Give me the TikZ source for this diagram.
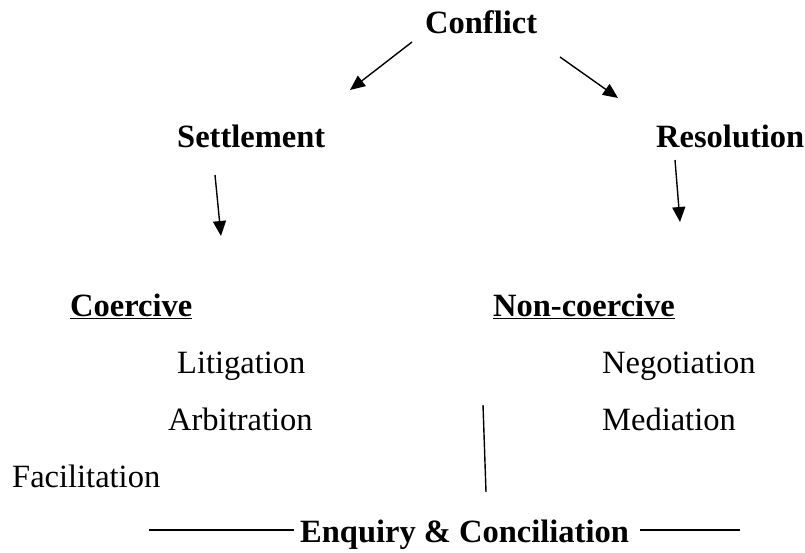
\documentclass[tikz,border=0pt]{standalone}
\usepackage{fontspec}
\setmainfont{Liberation Serif}
\usetikzlibrary{arrows.meta}
\begin{document}
\begin{tikzpicture}[x=1pt,y=-1pt,
  lbl/.style={anchor=base west,inner sep=0pt,font=\fontsize{32.5}{36}\selectfont},
  blbl/.style={lbl,font=\fontsize{32.5}{36}\selectfont\bfseries},
  arr/.style={line width=1.4pt,-{Triangle[length=15pt,width=13pt]}},
  ln/.style={line width=1.4pt}]
\useasboundingbox[fill=white] (0,0) rectangle (805,552);
\node[blbl] (conflict) at (425,33) {Conflict};
\node[blbl] (settlement) at (177,147) {Settlement};
\node[blbl] (resolution) at (656,147) {Resolution};
\node[blbl] (coercive) at (70,316) {\underline{Coercive}};
\node[blbl] (noncoercive) at (493,316) {\underline{Non-coercive}};
\node[lbl] (litigation) at (177,373) {Litigation};
\node[lbl] (negotiation) at (602,373) {Negotiation};
\node[lbl] (arbitration) at (168,430) {Arbitration};
\node[lbl] (mediation) at (602,430) {Mediation};
\node[lbl] (facilitation) at (12,487) {Facilitation};
\node[blbl] (enquiry) at (300,542) {Enquiry \& Conciliation};
\coordinate (c1s) at (412,42);
\coordinate (c1e) at (350,90);
\coordinate (c2s) at (560,57);
\coordinate (c2e) at (618,98);
\coordinate (s1s) at (215,175);
\coordinate (s1e) at (221,236);
\coordinate (r1s) at (675,160);
\coordinate (r1e) at (680,222);
\coordinate (vs) at (483,405);
\coordinate (ve) at (486,492);
\coordinate (l1s) at (149,530);
\coordinate (l1e) at (294,530);
\coordinate (l2s) at (640,530);
\coordinate (l2e) at (740,530);
\draw[arr] (c1s) -- (c1e);
\draw[arr] (c2s) -- (c2e);
\draw[arr] (s1s) -- (s1e);
\draw[arr] (r1s) -- (r1e);
\draw[ln] (vs) -- (ve);
\draw[ln] (l1s) -- (l1e);
\draw[ln] (l2s) -- (l2e);
\end{tikzpicture}
\end{document}
